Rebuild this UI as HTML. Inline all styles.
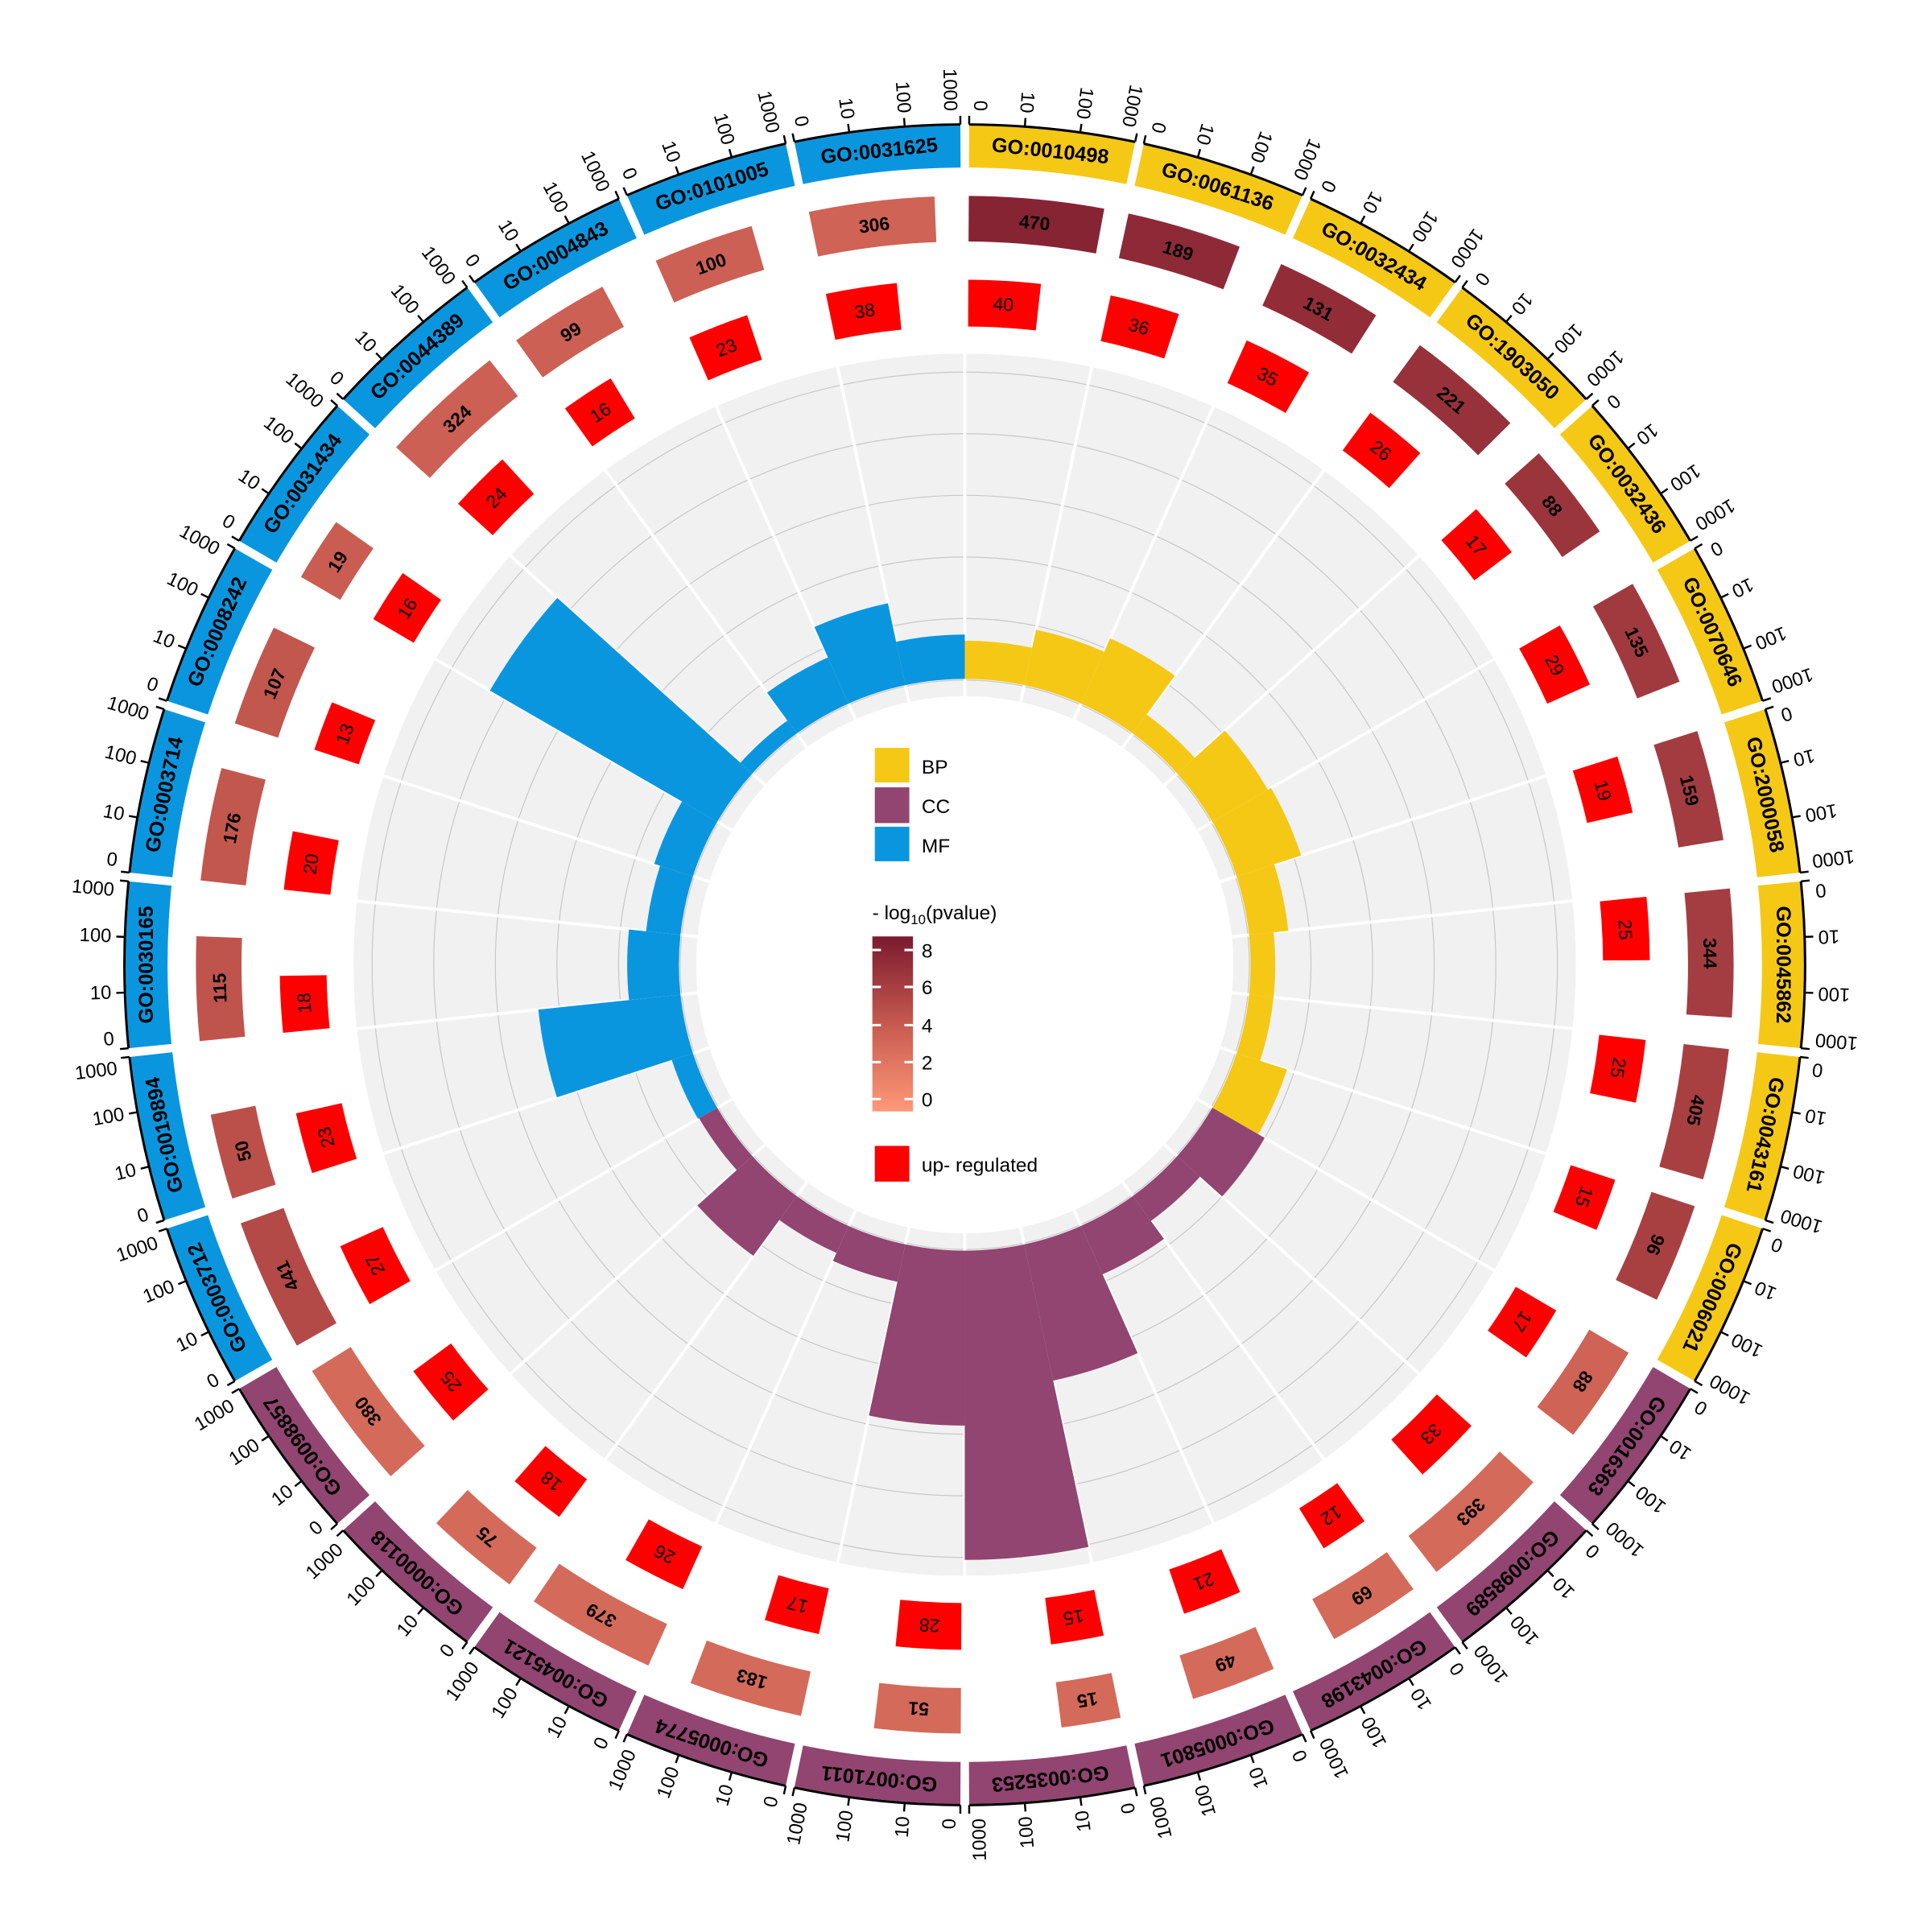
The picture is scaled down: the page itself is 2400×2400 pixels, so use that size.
<!DOCTYPE html>
<html><head><meta charset="utf-8"><style>
html,body{margin:0;padding:0;background:#fff}
svg{display:block}
text{font-family:"Liberation Sans",Arial,sans-serif}
</style></head><body>
<svg id="chart" width="2400" height="2400" viewBox="0 0 1568 1568" xmlns="http://www.w3.org/2000/svg">
<g id="rings"></g>
<g id="legend">
  <rect x="710" y="607" width="28" height="28" fill="#F5C816"/>
  <text x="748" y="628" font-size="16">BP</text>
  <rect x="710" y="639" width="28" height="29" fill="#914570"/>
  <text x="748" y="660" font-size="16">CC</text>
  <rect x="710" y="671" width="28" height="28" fill="#0A96DE"/>
  <text x="748" y="692" font-size="16">MF</text>
  <text x="708" y="746" font-size="16">- log<tspan font-size="11" dy="4">10</tspan><tspan dy="-4">(pvalue)</tspan></text>
  <defs><linearGradient id="pg" x1="0" y1="1" x2="0" y2="0">
    <stop offset="0" stop-color="#FF9878"/><stop offset="0.5" stop-color="#C65A50"/><stop offset="1" stop-color="#7B1A2E"/></linearGradient></defs>
  <rect x="708" y="760" width="33" height="142" fill="url(#pg)"/>
  <g stroke="#fff" stroke-width="2">
    <line x1="708" y1="771" x2="715" y2="771"/><line x1="734" y1="771" x2="741" y2="771"/>
    <line x1="708" y1="801" x2="715" y2="801"/><line x1="734" y1="801" x2="741" y2="801"/>
    <line x1="708" y1="832" x2="715" y2="832"/><line x1="734" y1="832" x2="741" y2="832"/>
    <line x1="708" y1="862" x2="715" y2="862"/><line x1="734" y1="862" x2="741" y2="862"/>
    <line x1="708" y1="892" x2="715" y2="892"/><line x1="734" y1="892" x2="741" y2="892"/>
  </g>
  <g font-size="16">
    <text x="748" y="777">8</text><text x="748" y="807">6</text><text x="748" y="838">4</text><text x="748" y="868">2</text><text x="748" y="898">0</text>
  </g>
  <rect x="710" y="930" width="28" height="29" fill="#FF0000"/>
  <text x="748" y="951" font-size="16">up- regulated</text>
</g>
</svg>
<script>
const goTerms = ["GO:0010498","GO:0061136","GO:0032434","GO:1903050","GO:0032436","GO:0070646","GO:2000058","GO:0045862","GO:0043161","GO:0006021",
"GO:0016363","GO:0098589","GO:0043198","GO:0005801","GO:0035253","GO:0071011","GO:0005774","GO:0045121","GO:0000118","GO:0098857",
"GO:0003712","GO:0019894","GO:0030165","GO:0003714","GO:0008242","GO:0031434","GO:0044389","GO:0004843","GO:0101005","GO:0031625"];
const categories = ["BP","BP","BP","BP","BP","BP","BP","BP","BP","BP","CC","CC","CC","CC","CC","CC","CC","CC","CC","CC","MF","MF","MF","MF","MF","MF","MF","MF","MF","MF"];
const geneCounts = [470,189,131,221,88,135,159,344,405,96, 88,393,69,49,15,51,183,379,75,380, 441,50,115,176,107,19,324,99,100,306];
const upCounts = [40,36,35,26,17,29,19,25,25,15, 17,33,12,21,15,28,17,26,18,25, 27,23,18,20,13,16,24,16,23,38];
const negLogP = [7.4,7,6.8,6.5,6.3,6,5.9,5.8,5.6,5.6, 3.4,3,3,3,3,3,3,3,3,3, 5,4.6,4.4,4.2,4.2,3.8,3.6,3.6,3.6,3.4];
const richValues = [3.1,4.6,5.8,1.9,5.2,5.5,3.2,2.0,2.0,4.3, 4.9,2.5,4.3,11.3,25.1,14.2,3.1,2.4,6.0,1.7, 1.8,11.6,4.2,2.8,3.3,21.3,1.3,4.1,6.8,3.6];
const tickLabels = ["0","10","100","1000"];
const tickValues = [0,1,2,3];

const CX=783, CY=783, SECT=12, PAD=0.3;
const catColor={BP:"#F5C816",CC:"#914570",MF:"#0A96DE"};
const NS="http://www.w3.org/2000/svg";
const root=document.getElementById('rings');
function pol(r,a){const t=a*Math.PI/180;return [CX+r*Math.sin(t),CY-r*Math.cos(t)];}
function arcPath(r0,r1,a0,a1){
  const [x0,y0]=pol(r1,a0),[x1,y1]=pol(r1,a1),[x2,y2]=pol(r0,a1),[x3,y3]=pol(r0,a0);
  const lg=(a1-a0)>180?1:0;
  return `M${x0},${y0}A${r1},${r1} 0 ${lg} 1 ${x1},${y1}L${x2},${y2}A${r0},${r0} 0 ${lg} 0 ${x3},${y3}Z`;
}
function mk(tag,attrs,parent){const e=document.createElementNS(NS,tag);for(const k in attrs)e.setAttribute(k,attrs[k]);(parent||root).appendChild(e);return e;}
function logFrac(n){return Math.log10(n)/3;}
function pColor(v){
  const stops=[[0,[255,152,120]],[4,[198,90,80]],[8,[123,26,46]]];
  let c=stops[2][1];
  for(let i=0;i<2;i++){if(v<=stops[i+1][0]){const f=(v-stops[i][0])/(stops[i+1][0]-stops[i][0]);c=stops[i][1].map((x,j)=>Math.round(x+(stops[i+1][1][j]-x)*f));break;}}
  return `rgb(${c[0]},${c[1]},${c[2]})`;
}
const rRich=v=>232+v*10;

const bg=mk('path',{d:arcPath(218,496,0,359.99),fill:'#F1F1F1'});


const grid=mk('g',{fill:'none',stroke:'#C8C8C8','stroke-width':0.8});


[231,281,331,381,431,481].forEach(r=>mk('circle',{cx:CX,cy:CY,r:r},grid));

const sepG=mk('g',{stroke:'#fff','stroke-width':2.5});



goTerms.forEach((go,i)=>{
  const a0=i*SECT+PAD, a1=(i+1)*SECT-PAD, span=a1-a0, mid=(a0+a1)/2;
  const col=catColor[categories[i]];
  const bar=mk('path',{d:arcPath(232,rRich(richValues[i]),i*SECT,(i+1)*SECT),fill:col});
  
  
  const [sx0,sy0]=pol(218,i*SECT),[sx1,sy1]=pol(497,i*SECT);
  mk('line',{x1:sx0,y1:sy0,x2:sx1,y2:sy1},sepG);
  const ue=a0+span*logFrac(upCounts[i]);
  const up=mk('path',{d:arcPath(518,556,a0,ue),fill:'#FF0000'});
  
  
  const um=(a0+ue)/2,[ux,uy]=pol(537,um);
  const ut=mk('text',{x:ux,y:uy,'font-size':15,'text-anchor':'middle','dominant-baseline':'central',transform:`rotate(${um},${ux},${uy})`});
  ut.textContent=upCounts[i];
  
  
  const ge=a0+span*logFrac(geneCounts[i]);
  const gb=mk('path',{d:arcPath(587,624,a0,ge),fill:pColor(negLogP[i])});
  
  
  const gm=(a0+ge)/2,[gx,gy]=pol(605,gm);
  const gt=mk('text',{x:gx,y:gy,'font-size':15,'font-weight':'bold','text-anchor':'middle','dominant-baseline':'central',transform:`rotate(${gm},${gx},${gy})`});
  gt.textContent=geneCounts[i];
  
  
  const band=mk('path',{d:arcPath(647,681,a0,a1),fill:col});
  
  
  const [bx,by]=pol(664,mid);
  const bt=mk('text',{x:bx,y:by,'font-size':16.5,'font-weight':'bold','text-anchor':'middle','dominant-baseline':'central',transform:`rotate(${mid},${bx},${by})`});
  bt.textContent=go;
  
  
  const [p0x,p0y]=pol(682,a0),[p1x,p1y]=pol(682,a1);
  const ax=mk('path',{d:`M${p0x},${p0y}A682,682 0 0 1 ${p1x},${p1y}`,fill:'none',stroke:'#000','stroke-width':2});
  
  
  tickValues.forEach((tv,k)=>{
    const ta=a0+span*tv/3;
    const [t0x,t0y]=pol(682,ta),[t1x,t1y]=pol(689,ta);
    mk('line',{x1:t0x,y1:t0y,x2:t1x,y2:t1y,stroke:'#000','stroke-width':1.6});
    let la=ta; if(k===0) la+=0.7; if(k===tickValues.length-1) la-=0.7;
    const [lx,ly]=pol(693,la);
    const tl=mk('text',{x:lx,y:ly,'font-size':15.5,'text-anchor':'end','dominant-baseline':'central',transform:`rotate(${la+90},${lx},${ly})`});
    tl.textContent=tickLabels[k];
    
    
  });
});
</script>
</body></html>
